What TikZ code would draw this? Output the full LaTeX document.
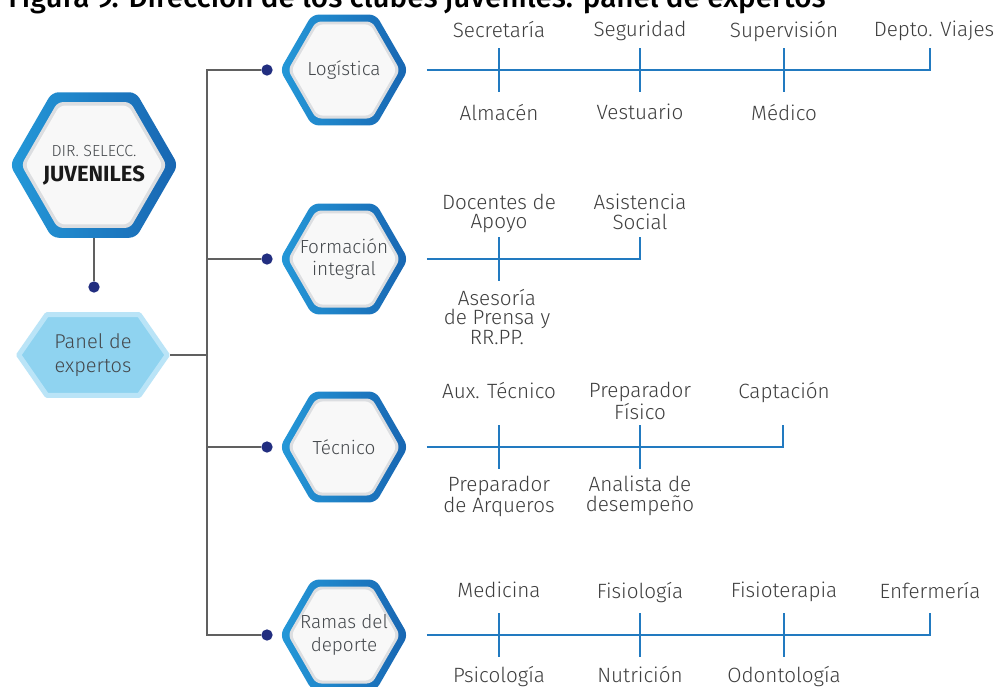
\documentclass[tikz,border=0pt]{standalone}
\usepackage{fontspec}
\setmainfont{Fira Sans}[UprightFont=* Light, BoldFont=* Bold]
\newfontfamily\titlefont{Fira Sans}[UprightFont=* Medium]
\usetikzlibrary{shapes.geometric,backgrounds,calc}

\definecolor{hexlight}{RGB}{36,152,216}
\definecolor{hexdark}{RGB}{24,102,178}
\definecolor{hexgray}{RGB}{220,222,225}
\definecolor{hexwhite}{RGB}{248,248,248}
\definecolor{hextext}{RGB}{68,72,76}
\definecolor{panelfill}{RGB}{143,211,240}
\definecolor{panelrim}{RGB}{186,228,247}
\definecolor{linkgray}{RGB}{96,96,96}
\definecolor{dotblue}{RGB}{34,46,128}
\definecolor{branchblue}{RGB}{34,122,192}
\definecolor{labelgray}{RGB}{62,62,62}

\tikzset{
  hexring/.style={regular polygon, regular polygon sides=6, inner sep=0pt, rounded corners=5pt, left color=hexlight, right color=hexdark, draw=none},
  hexrim/.style={regular polygon, regular polygon sides=6, inner sep=0pt, rounded corners=4pt, fill=hexgray},
  hexface/.style={regular polygon, regular polygon sides=6, inner sep=0pt, rounded corners=4pt, fill=hexwhite},
  hextxt/.style={align=center, text=hextext, inner sep=0pt, font=\fontsize{14.2}{17}\selectfont},
  panelshape/.style={fill=panelfill, draw=panelrim, line width=3.75pt, line join=round},
  link/.style={draw=linkgray, line width=1.5pt},
  bluebranch/.style={draw=branchblue, line width=1.9pt},
  pindot/.style={circle, fill=dotblue, minimum size=8.5pt, inner sep=0pt},
  lbl/.style={align=center, text=labelgray, inner sep=0pt, anchor=north, font=\fontsize{15.5}{14.5}\selectfont},
  titletxt/.style={anchor=base west, inner sep=0pt, font=\titlefont\fontsize{22.2}{26}\selectfont},
}

\begin{document}
\begin{tikzpicture}[x=0.75pt,y=0.75pt,yscale=-1,xscale=1]
\useasboundingbox (0,0) rectangle (998,686);

% Text Node
\node[titletxt] (title) at (8,7) {Figura 9. Dirección de los clubes juveniles: panel de expertos};

%Shape: Hexagon [director]
\node[hexring, minimum size=126pt] (dir) at (94,165) {};
\node[hexrim, minimum size=109pt] (dirrim) at (dir) {};
\node[hexface, minimum size=103pt] (dirface) at (dir) {};
\node[hextxt] (dirtxt) at (dir) {{\fontsize{12}{13}\selectfont DIR. SELECC.}\\[2pt]{\color{black!90}\bfseries\fontsize{16.5}{18}\selectfont JUVENILES}};

%Shape: Hexagon [panel]
\node[hextxt, minimum width=115.5pt, minimum height=64.5pt, font=\fontsize{15}{18}\selectfont] (panel) at (93,355) {Panel de\\expertos};
\begin{scope}[on background layer]
\fill[white] (0,0) rectangle (998,686);
\draw[panelshape] ($(panel.west)+(3,0)$) -- ($(panel.north west)+(31,3)$) -- ($(panel.north east)+(-31,3)$) -- ($(panel.east)+(-3,0)$) -- ($(panel.south east)+(-31,-3)$) -- ($(panel.south west)+(31,-3)$) -- cycle;
\end{scope}

%Shape: Hexagon [areas]
\node[hexring, minimum size=96pt] (log) at (344,70) {};
\node[hexrim, minimum size=84pt] (logrim) at (log) {};
\node[hexface, minimum size=79pt] (logface) at (log) {};
\node[hextxt] (logtxt) at (log) {Logística};

\node[hexring, minimum size=96pt] (form) at (344,259) {};
\node[hexrim, minimum size=84pt] (formrim) at (form) {};
\node[hexface, minimum size=79pt] (formface) at (form) {};
\node[hextxt] (formtxt) at (form) {Formación\\integral};

\node[hexring, minimum size=96pt] (tec) at (344,447) {};
\node[hexrim, minimum size=84pt] (tecrim) at (tec) {};
\node[hexface, minimum size=79pt] (tecface) at (tec) {};
\node[hextxt] (tectxt) at (tec) {Técnico};

\node[hexring, minimum size=96pt] (ram) at (344,635) {};
\node[hexrim, minimum size=84pt] (ramrim) at (ram) {};
\node[hexface, minimum size=79pt] (ramface) at (ram) {};
\node[hextxt] (ramtxt) at (ram) {Ramas del\\deporte};

%Dots
\node[pindot] (d0) at (94,287) {};
\node[pindot] (d1) at (267,70) {};
\node[pindot] (d2) at (267,259) {};
\node[pindot] (d3) at (267,447) {};
\node[pindot] (d4) at (267,635) {};

%Straight Lines [trunk]
\coordinate (tr1) at (207,70);
\coordinate (tr2) at (207,259);
\coordinate (trp) at (207,355);
\coordinate (tr3) at (207,447);
\coordinate (tr4) at (207,635);
\draw[link] (dir.south) -- (d0);
\draw[link] (d1) -- (tr1) -- (tr4) -- (d4);
\draw[link] (tr2) -- (d2);
\draw[link] (tr3) -- (d3);
\draw[link] (panel.east) -- (trp);

%Straight Lines [branches]
\coordinate (logend) at (930,70);
\coordinate (formend) at (640,259);
\coordinate (tecend) at (783,447);
\coordinate (ramend) at (930,635);
\draw[bluebranch] ([xshift=14pt]log.east) -- (logend) -- ++(0,-22);
\draw[bluebranch] ([xshift=14pt]form.east) -- (formend) -- ++(0,-22);
\draw[bluebranch] ([xshift=14pt]tec.east) -- (tecend) -- ++(0,-22);
\draw[bluebranch] ([xshift=14pt]ram.east) -- (ramend) -- ++(0,-22);

%Ticks
\draw[bluebranch] (499,48) -- (499,92);
\draw[bluebranch] (640,48) -- (640,92);
\draw[bluebranch] (784,48) -- (784,92);
\draw[bluebranch] (499,237) -- (499,281);
\draw[bluebranch] (499,425) -- (499,469);
\draw[bluebranch] (640,425) -- (640,469);
\draw[bluebranch] (499,613) -- (499,657);
\draw[bluebranch] (640,613) -- (640,657);
\draw[bluebranch] (784,613) -- (784,657);

% Text Node
\node[lbl] (secr) at (499,21) {Secretaría};
\node[lbl] (segu) at (640,21) {Seguridad};
\node[lbl] (supe) at (784,21) {Supervisión};
\node[lbl] (viaj) at (934,21) {Depto. Viajes};
\node[lbl] (alma) at (499,104) {Almacén};
\node[lbl] (vest) at (640,104) {Vestuario};
\node[lbl] (medi) at (784,104) {Médico};
% Text Node
\node[lbl] (doce) at (499,194) {Docentes de\\Apoyo};
\node[lbl] (asis) at (640,194) {Asistencia\\Social};
\node[lbl] (pren) at (497,289) {Asesoría\\de Prensa y\\RR.PP.};
% Text Node
\node[lbl] (auxt) at (499,382) {Aux. Técnico};
\node[lbl] (fisi) at (640,382) {Preparador\\Físico};
\node[lbl] (capt) at (784,382) {Captación};
\node[lbl] (arqu) at (499,476) {Preparador\\de Arqueros};
\node[lbl] (anal) at (640,476) {Analista de\\desempeño};
% Text Node
\node[lbl] (medc) at (499,582) {Medicina};
\node[lbl] (fisl) at (640,582) {Fisiología};
\node[lbl] (fist) at (784,582) {Fisioterapia};
\node[lbl] (enfe) at (930,582) {Enfermería};
\node[lbl] (psic) at (499,666) {Psicología};
\node[lbl] (nutr) at (640,666) {Nutrición};
\node[lbl] (odon) at (784,666) {Odontología};

\end{tikzpicture}
\end{document}
